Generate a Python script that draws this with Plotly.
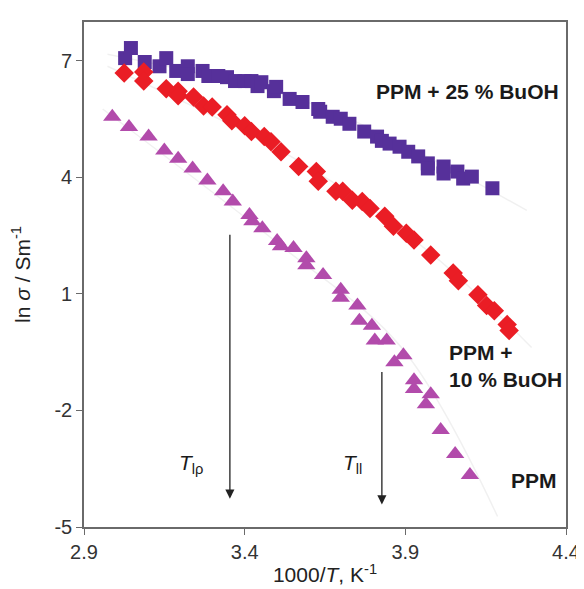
import plotly.graph_objects as go

# PPM + 25 % BuOH (squares)
sq_x = [3.028, 3.046, 3.089, 3.135, 3.156, 3.187, 3.223, 3.223, 3.269, 3.287, 3.318, 3.345,
        3.370, 3.400, 3.421, 3.440, 3.452, 3.491, 3.498, 3.540, 3.580, 3.629, 3.635, 3.674,
        3.699, 3.726, 3.772, 3.812, 3.827, 3.851, 3.882, 3.909, 3.940, 3.970, 3.970, 4.019,
        4.019, 4.062, 4.080, 4.107, 4.171]
sq_y = [7.07, 7.33, 6.97, 6.86, 7.07, 6.74, 6.86, 6.66, 6.74, 6.61, 6.61, 6.58,
        6.48, 6.48, 6.48, 6.35, 6.45, 6.22, 6.33, 6.02, 5.94, 5.76, 5.69, 5.56,
        5.51, 5.38, 5.18, 5.05, 4.94, 4.87, 4.79, 4.66, 4.54, 4.36, 4.23, 4.28,
        4.10, 4.15, 3.97, 4.02, 3.72]

# PPM + 10 % BuOH (diamonds)
di_x = [3.025, 3.086, 3.086, 3.156, 3.193, 3.193, 3.241, 3.272, 3.299, 3.345, 3.360, 3.400,
        3.421, 3.461, 3.482, 3.513, 3.568, 3.623, 3.629, 3.684, 3.705, 3.735, 3.766, 3.790,
        3.836, 3.863, 3.903, 3.927, 3.979, 4.049, 4.065, 4.126, 4.153, 4.177, 4.217, 4.223]
di_y = [6.69, 6.71, 6.48, 6.28, 6.22, 6.10, 6.07, 5.84, 5.81, 5.61, 5.46, 5.33,
        5.18, 5.05, 4.92, 4.66, 4.28, 4.15, 3.90, 3.64, 3.64, 3.41, 3.38, 3.20,
        3.00, 2.74, 2.56, 2.39, 2.00, 1.54, 1.34, 0.98, 0.70, 0.57, 0.21, 0.06]

# PPM (triangles)
tr_x = [2.988, 3.040, 3.101, 3.150, 3.193, 3.238, 3.284, 3.333, 3.363, 3.415, 3.424, 3.455,
        3.501, 3.513, 3.552, 3.592, 3.592, 3.644, 3.699, 3.699, 3.751, 3.757, 3.796, 3.805,
        3.842, 3.866, 3.894, 3.927, 3.927, 3.979, 3.964, 4.010, 4.055, 4.101]
tr_y = [5.56, 5.30, 5.05, 4.69, 4.48, 4.23, 3.92, 3.64, 3.38, 3.03, 2.87, 2.69,
        2.36, 2.23, 2.18, 1.92, 1.74, 1.49, 1.11, 0.90, 0.70, 0.31, 0.18, -0.20,
        -0.20, -0.76, -0.58, -1.22, -1.45, -1.58, -1.84, -2.50, -3.12, -3.66]

# faint fit curves
fit_sq_x = [2.973, 3.583, 3.949, 4.278]
fit_sq_y = [7.17, 5.97, 4.61, 3.15]
fit_di_x = [2.973, 3.583, 3.979, 4.293]
fit_di_y = [6.86, 4.35, 2.05, -0.38]
fit_tr_x = [2.958, 3.522, 3.888, 4.187]
fit_tr_y = [5.76, 2.18, -0.38, -4.73]

x_ticks = [2.9, 3.4, 3.9, 4.4]
y_ticks = [7, 4, 1, -2, -5]

# transition arrows: x position, start y, end y
arrow_lp = (3.354, 2.56, -4.27)
arrow_ll = (3.827, -0.97, -4.42)

FONT = "Liberation Sans, Arial, sans-serif"

fig = go.Figure()
for fx, fy in [(fit_sq_x, fit_sq_y), (fit_di_x, fit_di_y), (fit_tr_x, fit_tr_y)]:
    fig.add_trace(go.Scatter(x=fx, y=fy, mode="lines", line=dict(color="rgba(0,0,0,0.06)", width=1.5, shape="spline"),
                             hoverinfo="skip", showlegend=False))

fig.add_trace(go.Scatter(x=sq_x, y=sq_y, mode="markers",
                         marker=dict(symbol="square", size=14, color="#56309a"), showlegend=False))
fig.add_trace(go.Scatter(x=di_x, y=di_y, mode="markers",
                         marker=dict(symbol="diamond", size=15, color="#ea1d25"), showlegend=False))
fig.add_trace(go.Scatter(x=tr_x, y=tr_y, mode="markers",
                         marker=dict(symbol="triangle-up", size=16, color="#b24bab"), showlegend=False))

for (ax_x, y0, y1) in [arrow_lp, arrow_ll]:
    fig.add_annotation(x=ax_x, y=y1, ax=ax_x, ay=y0, xref="x", yref="y", axref="x", ayref="y",
                       showarrow=True, arrowhead=2, arrowsize=1.4, arrowwidth=1.3, arrowcolor="#222",
                       text="")

lab = dict(family=FONT, size=21, color="#1a1a1a")
tfont = dict(family=FONT, size=21, color="#1a1a1a")
fig.add_annotation(x=3.232, y=-3.38, text="<i>T</i><sub>lρ</sub>", showarrow=False, font=tfont)
fig.add_annotation(x=3.735, y=-3.38, text="<i>T</i><sub>ll</sub>", showarrow=False, font=tfont)
fig.add_annotation(x=4.092, y=6.22, text="<b>PPM + 25 % BuOH</b>", showarrow=False, font=lab)
fig.add_annotation(x=4.030, y=-0.85, text="<b>PPM +<br>10 % BuOH</b>", showarrow=False, font=lab,
                   xanchor="left", align="left")
fig.add_annotation(x=4.299, y=-3.80, text="<b>PPM</b>", showarrow=False, font=lab)

axis_common = dict(showline=True, linecolor="#6a6a6a", linewidth=1.6, mirror=True, showgrid=False,
                   zeroline=False, ticks="outside", ticklen=6, tickcolor="#6a6a6a", tickwidth=1.3,
                   tickfont=dict(family=FONT, size=20, color="#333"))
fig.update_xaxes(range=[2.9, 4.4], tickvals=x_ticks, ticktext=[str(v) for v in x_ticks],
                 title=dict(text="1000/<i>T</i>, K<sup>-1</sup>", font=dict(family=FONT, size=21, color="#222"), standoff=6),
                 **axis_common)
fig.update_yaxes(range=[-5, 8], tickvals=y_ticks, ticktext=[str(v) for v in y_ticks],
                 title=dict(text="ln <i>σ</i> / Sm<sup>-1</sup>", font=dict(family=FONT, size=21, color="#222"), standoff=20),
                 **axis_common)
fig.update_layout(width=584, height=589, margin=dict(l=76, r=16, t=13, b=70),
                  plot_bgcolor="white", paper_bgcolor="white")
fig.write_html("out.html")
